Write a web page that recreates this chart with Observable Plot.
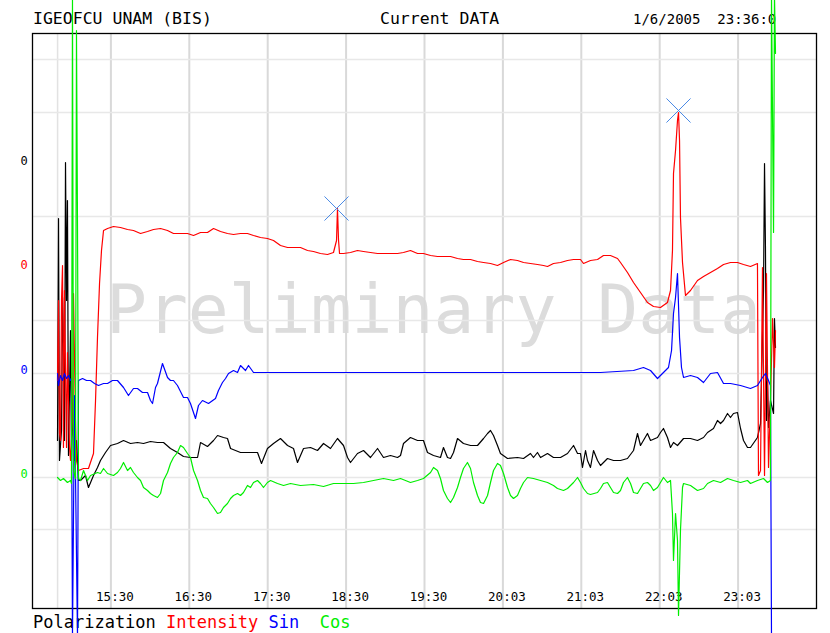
<!DOCTYPE html>
<html><head><meta charset="utf-8">
<script src="https://cdn.jsdelivr.net/npm/d3@7"></script>
<script src="https://cdn.jsdelivr.net/npm/@observablehq/plot@0.6"></script>
<style>
html,body{margin:0;padding:0;background:#fff;width:830px;height:633px;overflow:hidden}
#wrap{position:relative;width:830px;height:633px}
#chart{position:absolute;left:0;top:0;z-index:1}
.t{position:absolute;font-family:"DejaVu Sans Mono",monospace;white-space:pre;line-height:20px;color:#000;z-index:0}
</style></head><body>
<div id="wrap">
<div class="t" style="left:33px;top:9px;font-size:16.5px">IGEOFCU UNAM (BIS)</div>
<div class="t" style="left:380px;top:9px;font-size:16.5px">Current DATA</div>
<div class="t" style="left:633px;top:9px;font-size:14px">1/6/2005  23:36:0</div>
<div class="t" style="left:33px;top:612px;font-size:17px"><span style="color:#000">Polarization</span> <span style="color:#ff0000">Intensity</span> <span style="color:#0000ff">Sin</span>  <span style="color:#00ee00">Cos</span></div>
<div id="chart"></div>
</div>
<script>
// time in decimal hours, values in chart units (each trace offset around its own zero line)
const hourGrid = [15.5, 16.5, 17.5, 18.5, 19.5, 20.5, 21.5, 22.5, 23.5];
const hourLabels = ["15:30", "16:30", "17:30", "18:30", "19:30", "20:03", "21:03", "22:03", "23:03"];
const startGrid = [14.82];
const levelGrid = [418, 365, 261, 157, 104, 0, -52];
const zeroLevels = [313, 209, 104, 0];
const zeroColors = ["#000000", "#ff0000", "#0000ff", "#00ee00"];
const watermark = ["Preliminary Data"];

const intensity = [
[14.819,97],[14.832,177],[14.844,44],[14.857,37],[14.870,177],[14.883,212],[14.895,30],[14.908,187],[14.934,30],[14.946,125],[14.972,30],[14.985,17],[15.010,57],[15.023,184],[15.048,57],[15.061,17],[15.087,7],[15.151,9],[15.214,9],[15.278,24],[15.304,77],[15.329,140],[15.355,194],[15.380,227],[15.406,247],[15.457,249],[15.533,251],[15.622,250],[15.712,248],[15.788,247],[15.878,244],[15.967,246],[16.043,248],[16.133,249],[16.222,247],[16.298,244],[16.388,244],[16.477,244],[16.554,242],[16.643,245],[16.732,245],[16.809,249],[16.898,246],[16.987,244],[17.064,243],[17.153,244],[17.242,244],[17.319,242],[17.408,240],[17.497,239],[17.574,237],[17.663,232],[17.753,230],[17.829,230],[17.918,230],[18.008,227],[18.084,226],[18.173,224],[18.263,223],[18.339,225],[18.378,237],[18.390,269],[18.403,238],[18.416,224],[18.467,224],[18.556,225],[18.645,227],[18.722,226],[18.811,225],[18.901,224],[18.977,224],[19.066,224],[19.156,224],[19.232,225],[19.321,227],[19.411,224],[19.487,224],[19.577,222],[19.666,221],[19.742,221],[19.832,221],[19.921,219],[19.997,218],[20.087,218],[20.176,216],[20.253,215],[20.342,214],[20.431,212],[20.508,215],[20.597,218],[20.686,217],[20.763,215],[20.852,214],[20.941,213],[21.018,212],[21.069,211],[21.145,214],[21.235,215],[21.324,217],[21.401,218],[21.490,218],[21.528,214],[21.617,217],[21.707,218],[21.783,222],[21.872,222],[21.962,219],[22.000,215],[22.089,205],[22.166,195],[22.255,185],[22.344,175],[22.421,171],[22.510,170],[22.599,175],[22.638,187],[22.663,227],[22.676,304],[22.702,327],[22.727,357],[22.740,365],[22.753,337],[22.765,260],[22.791,215],[22.829,182],[22.893,187],[22.982,197],[23.059,201],[23.148,205],[23.237,209],[23.314,213],[23.403,215],[23.492,215],[23.569,213],[23.658,211],[23.747,214],[23.760,2],[23.786,7],[23.811,210],[23.837,2],[23.862,204],[23.888,10],[23.913,77],[23.939,159],[23.964,110],[23.977,147]
];

const sine = [
[14.819,104],[14.832,92],[14.857,102],[14.883,97],[14.908,104],[14.934,99],[14.959,102],[14.985,97],[14.997,99],[15.010,-160],[15.036,82],[15.074,-160],[15.087,97],[15.138,99],[15.189,97],[15.240,97],[15.291,94],[15.342,92],[15.406,94],[15.457,94],[15.520,97],[15.584,97],[15.661,90],[15.724,82],[15.788,89],[15.839,89],[15.903,85],[15.967,85],[16.005,77],[16.031,74],[16.069,90],[16.094,94],[16.158,114],[16.222,100],[16.260,97],[16.298,97],[16.349,92],[16.426,80],[16.477,80],[16.515,74],[16.579,59],[16.617,72],[16.668,77],[16.745,74],[16.834,79],[16.872,87],[16.923,95],[16.962,99],[17.000,104],[17.064,107],[17.115,105],[17.153,112],[17.217,107],[17.255,112],[17.319,105],[17.918,105],[19.194,105],[20.469,105],[21.745,105],[22.166,107],[22.293,110],[22.383,107],[22.472,99],[22.548,105],[22.612,110],[22.651,127],[22.676,164],[22.702,180],[22.727,204],[22.753,140],[22.778,110],[22.804,100],[22.893,102],[22.982,100],[23.059,95],[23.148,104],[23.237,105],[23.314,94],[23.403,94],[23.531,92],[23.658,89],[23.747,92],[23.811,100],[23.849,104],[23.888,97],[23.913,92],[23.926,-160]
];

const polarization = [
[14.819,37],[14.832,259],[14.844,17],[14.870,47],[14.883,180],[14.895,132],[14.908,37],[14.921,315],[14.934,177],[14.946,277],[14.959,22],[14.985,147],[14.997,17],[15.010,67],[15.036,17],[15.061,37],[15.087,-3],[15.112,-3],[15.176,2],[15.214,-10],[15.278,2],[15.329,10],[15.367,17],[15.431,25],[15.495,32],[15.584,34],[15.661,37],[15.750,34],[15.839,35],[15.916,34],[16.005,36],[16.094,35],[16.171,35],[16.260,29],[16.349,25],[16.426,21],[16.515,20],[16.605,20],[16.643,35],[16.732,31],[16.809,37],[16.860,42],[16.936,40],[16.987,39],[17.026,29],[17.153,25],[17.281,25],[17.370,25],[17.421,14],[17.497,29],[17.574,34],[17.663,39],[17.753,32],[17.829,29],[17.880,15],[17.957,29],[18.046,30],[18.135,27],[18.212,34],[18.301,29],[18.390,39],[18.467,32],[18.518,20],[18.556,15],[18.645,24],[18.722,27],[18.811,20],[18.901,29],[18.977,20],[19.066,22],[19.156,20],[19.194,22],[19.232,34],[19.321,40],[19.411,37],[19.487,37],[19.538,25],[19.615,22],[19.704,20],[19.742,30],[19.793,20],[19.832,19],[19.870,25],[19.921,39],[19.997,34],[20.087,32],[20.176,32],[20.253,39],[20.304,44],[20.342,47],[20.380,42],[20.431,32],[20.469,24],[20.559,19],[20.686,20],[20.763,19],[20.852,24],[20.890,20],[20.941,25],[20.980,20],[21.069,24],[21.145,20],[21.235,20],[21.324,24],[21.401,32],[21.452,24],[21.490,24],[21.515,10],[21.554,27],[21.579,17],[21.617,10],[21.656,27],[21.707,17],[21.745,12],[21.834,19],[21.911,17],[22.000,17],[22.089,19],[22.166,27],[22.217,44],[22.255,32],[22.344,44],[22.383,37],[22.472,40],[22.510,45],[22.548,49],[22.599,40],[22.638,30],[22.676,35],[22.727,32],[22.804,39],[22.893,39],[22.982,37],[23.059,40],[23.110,45],[23.186,49],[23.237,57],[23.276,54],[23.314,57],[23.365,64],[23.403,60],[23.441,64],[23.492,65],[23.531,49],[23.569,37],[23.620,30],[23.658,30],[23.747,40],[23.786,54],[23.824,187],[23.837,314],[23.849,230],[23.862,57],[23.875,97],[23.888,50],[23.913,77],[23.952,64],[23.964,159],[23.977,130]
];

const cosine = [
[14.819,0],[14.857,-3],[14.895,-1],[14.946,-5],[14.985,-3],[14.997,-6],[15.010,482],[15.023,7],[15.048,-1],[15.061,447],[15.074,252],[15.087,-1],[15.112,-3],[15.151,7],[15.202,-3],[15.240,2],[15.329,5],[15.367,4],[15.406,9],[15.457,4],[15.533,2],[15.584,5],[15.622,9],[15.661,15],[15.712,7],[15.750,10],[15.788,5],[15.839,0],[15.878,-3],[15.916,-10],[15.967,-13],[16.005,-16],[16.043,-18],[16.094,-20],[16.133,-16],[16.171,-3],[16.222,5],[16.260,14],[16.298,20],[16.349,25],[16.388,32],[16.426,30],[16.477,24],[16.515,20],[16.554,7],[16.605,-3],[16.643,-13],[16.681,-20],[16.732,-21],[16.770,-26],[16.809,-30],[16.860,-36],[16.898,-35],[16.936,-30],[16.987,-26],[17.026,-21],[17.064,-18],[17.115,-16],[17.153,-18],[17.191,-15],[17.242,-8],[17.281,-10],[17.319,-5],[17.370,-3],[17.408,-6],[17.446,-10],[17.497,-5],[17.536,-3],[17.625,-6],[17.702,-8],[17.791,-6],[17.918,-8],[18.084,-7],[18.212,-9],[18.339,-6],[18.467,-6],[18.594,-6],[18.722,-5],[18.849,-3],[18.977,-1],[19.105,-3],[19.194,-1],[19.321,-5],[19.411,-3],[19.487,-1],[19.577,5],[19.615,10],[19.666,7],[19.704,-1],[19.742,-13],[19.793,-21],[19.832,-25],[19.870,-20],[19.921,-10],[19.959,0],[19.997,9],[20.048,15],[20.087,9],[20.125,-5],[20.176,-18],[20.214,-25],[20.253,-26],[20.304,-18],[20.342,-5],[20.380,7],[20.431,14],[20.469,12],[20.508,4],[20.559,-10],[20.597,-18],[20.635,-21],[20.686,-18],[20.724,-11],[20.763,-5],[20.814,0],[20.890,-1],[20.980,-3],[21.069,-5],[21.145,-8],[21.196,-11],[21.273,-13],[21.324,-11],[21.401,-5],[21.452,0],[21.490,-5],[21.528,-11],[21.579,-16],[21.617,-17],[21.707,-15],[21.745,-11],[21.783,-6],[21.834,-5],[21.872,-10],[21.911,-15],[21.962,-16],[22.000,-13],[22.038,-5],[22.089,0],[22.128,-6],[22.166,-15],[22.217,-16],[22.255,-11],[22.293,-6],[22.344,-5],[22.383,-8],[22.421,-13],[22.472,-10],[22.510,-5],[22.548,0],[22.599,-5],[22.638,-3],[22.663,-36],[22.676,-83],[22.702,-36],[22.727,-63],[22.740,-138],[22.765,-53],[22.791,-10],[22.804,-6],[22.893,-8],[22.982,-13],[23.059,-11],[23.110,-6],[23.186,-3],[23.276,-5],[23.365,-1],[23.441,-3],[23.531,-5],[23.620,-3],[23.658,-6],[23.747,-3],[23.824,-1],[23.875,-5],[23.913,-3],[23.926,482],[23.952,245],[23.964,482],[23.977,424]
];

const peaks = [[18.378, 269], [22.740, 367]];

const zeroTable = zeroLevels.map((v, i) => ({v, c: zeroColors[i]}));
const mono = "DejaVu Sans Mono";

const chart = Plot.plot({
  width: 830, height: 633,
  marginLeft: 32, marginRight: 14, marginTop: 33, marginBottom: 25,
  x: {domain: [14.5, 24.5], axis: null},
  y: {domain: [-131, 444], axis: null},
  style: {background: "transparent", overflow: "visible"},
  marks: [
    Plot.text(watermark, {text: d => d, frameAnchor: "middle", dx: 9, dy: -9.5, fontSize: 68, fontFamily: mono, fill: "#dcdcdc"}),
    Plot.ruleX(startGrid, {stroke: "#e2e2e2", strokeWidth: 1.5}),
    Plot.ruleX(hourGrid, {stroke: "#d9d9d9", strokeWidth: 2}),
    Plot.ruleY(levelGrid, {stroke: "#e8e8e8", strokeWidth: 1.5}),
    Plot.frame({stroke: "#000", strokeWidth: 1.3}),
    Plot.text(hourGrid, {x: d => d, text: (d, i) => hourLabels[i], frameAnchor: "bottom", dy: -8, dx: 4, fontSize: 12.5, fontFamily: mono, fill: "#000"}),
    Plot.text(zeroTable, {y: "v", text: () => "0", fill: "c", frameAnchor: "left", dx: -12, dy: -3, fontSize: 12, fontFamily: mono}),
    Plot.line(polarization, {x: d => d[0], y: d => d[1], stroke: "#000000", strokeWidth: 1.2}),
    Plot.line(intensity, {x: d => d[0], y: d => d[1], stroke: "#ff0000", strokeWidth: 1.2}),
    Plot.line(sine, {x: d => d[0], y: d => d[1], stroke: "#0000ff", strokeWidth: 1.2}),
    Plot.line(cosine, {x: d => d[0], y: d => d[1], stroke: "#00ee00", strokeWidth: 1.2}),
    Plot.dot(peaks, {x: d => d[0], y: d => d[1], symbol: "times", r: 11, stroke: "#4a8ae6", strokeWidth: 1})
  ]
});
document.getElementById("chart").appendChild(chart);
</script>
</body></html>
